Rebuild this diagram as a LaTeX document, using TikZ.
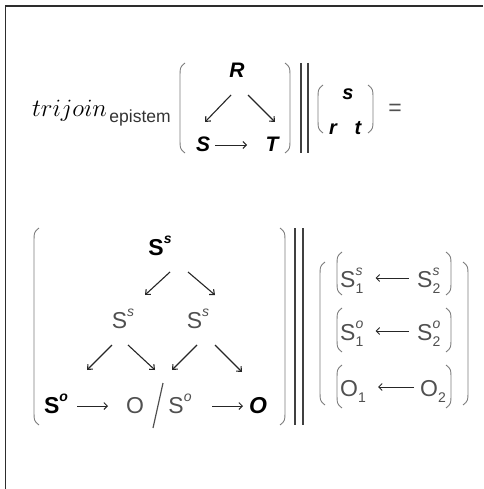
\documentclass[tikz,border=0pt]{standalone}
\usepackage{fontspec}
\setmainfont{Liberation Sans}
\usetikzlibrary{arrows.meta}
\definecolor{inkgray}{RGB}{80,80,80}
\definecolor{pargray}{RGB}{125,125,125}
\definecolor{framecol}{RGB}{45,45,45}
\newcommand{\upr}[1]{\raisebox{.5em}{\fontsize{14}{14}\selectfont #1}}
\newcommand{\supsub}[2]{\rlap{\raisebox{.5em}{\fontsize{14}{14}\selectfont #1}}\raisebox{-.3em}{\fontsize{14}{14}\selectfont #2}}
\tikzset{
  topv/.style={anchor=base,inner sep=0pt,font=\fontsize{21}{24}\selectfont\bfseries\itshape},
  vecv/.style={anchor=base,inner sep=0pt,font=\fontsize{20}{24}\selectfont\bfseries\itshape},
  boldv/.style={anchor=base,inner sep=0pt,font=\fontsize{23}{26}\selectfont\bfseries},
  greyv/.style={anchor=base,inner sep=0pt,text=inkgray,font=\fontsize{23}{26}\selectfont},
  rowv/.style={anchor=base west,inner sep=0pt,text=inkgray,font=\fontsize{23}{26}\selectfont},
  arr/.style={-{Straight Barb[length=4pt,width=7pt]},line width=1.1pt,draw=black!85},
  harr/.style={-{Straight Barb[length=3.5pt,width=7pt]},line width=.9pt,draw=black!85},
  parline/.style={draw=pargray,line width=.9pt},
  barline/.style={draw=black!75,line width=1.3pt}
}
\begin{document}
\begin{tikzpicture}[x=1pt,y=-1pt]
\newcommand{\tallpar}[4]{% x, top, bottom, side: 1 for (, -1 for )
  \draw[parline] ({#1+5*#4},#2) .. controls (#1,{#2+4}) .. (#1,{#2+16})
    -- (#1,{#3-16}) .. controls (#1,{#3-4}) .. ({#1+5*#4},#3);}
\useasboundingbox (0,0) rectangle (483,489);
% frame (only left and top edge show)
\draw[draw=framecol,line width=1.5pt] (5.5,489) -- (5.5,6) -- (483,6);

% first line
\node[anchor=base west,inner sep=0pt,font=\fontsize{23}{26}\selectfont] (fn) at (32,117) {$trijoin$};
\node[anchor=base west,inner sep=0pt,text=black!80,font=\fontsize{17.5}{20}\selectfont] (fnsub) at ([shift={(2,6)}]fn.base east) {epistem};
\node[topv] (R) at (237,78) {R};
\node[topv] (S) at (203,152) {S};
\node[topv] (T) at (272,152) {T};
\draw[arr] ([shift={(-6,17)}]R.base) -- ([shift={(2,-30)}]S.base);
\draw[arr] ([shift={(11,17)}]R.base) -- ([shift={(3,-30)}]T.base);
\draw[harr] ([shift={(12,-7)}]S.base) -- ([shift={(-25,-7)}]T.base);
\tallpar{180}{63}{153}{1}
\tallpar{290}{63}{153}{-1}
\draw[barline] (301,63) -- (301,153);
\draw[barline] (308,63) -- (308,153);
\tallpar{318}{85}{133}{1}
\tallpar{373}{85}{133}{-1}
\node[vecv] (s) at (348,100) {s};
\node[vecv] (r) at (333,135) {r};
\node[vecv] (t) at (358,135) {t};
\node[greyv] (eq) at (395,116) {=};

% second line, the tree
\node[boldv] (Ss) at (160,255) {S\upr{\textit{s}}};
\node[greyv] (A) at (123,328) {S\upr{\textit{s}}};
\node[greyv] (B) at (198,328) {S\upr{\textit{s}}};
\node[boldv] (So) at (56,413) {S\upr{\textit{o}}};
\node[greyv] (O) at (135,413) {O};
\node[greyv] (Sm) at (180,413) {S\upr{\textit{o}}};
\node[boldv,font=\fontsize{23}{26}\selectfont\bfseries\itshape] (Ob) at (258,413) {O};
\coordinate (sl1) at (153,428);
\coordinate (sl2) at (163,383);
\draw[draw=inkgray,line width=1.2pt] (sl1) -- (sl2);
\draw[arr] ([shift={(10,17)}]Ss.base) -- ([shift={(22,-33)}]A.base);
\draw[arr] ([shift={(28,17)}]Ss.base) -- ([shift={(17,-33)}]B.base);
\draw[arr] ([shift={(-11,17)}]A.base) -- ([shift={(31,-43)}]So.base);
\draw[arr] ([shift={(5,17)}]A.base) -- ([shift={(20,-43)}]O.base);
\draw[arr] ([shift={(-1,17)}]B.base) -- ([shift={(-8,-43)}]Sm.base);
\draw[arr] ([shift={(17,17)}]B.base) -- ([shift={(-16,-41)}]Ob.base);
\draw[harr] ([shift={(21,-7)}]So.base) -- ([shift={(-27,-7)}]O.base);
\draw[harr] ([shift={(32,-7)}]Sm.base) -- ([shift={(-15,-7)}]Ob.base);
\tallpar{34}{228}{425}{1}
\tallpar{285}{228}{425}{-1}
\draw[barline] (295,228) -- (295,425);
\draw[barline] (303,228) -- (303,425);

% right column
\tallpar{320}{262}{405}{1}
\tallpar{468}{262}{405}{-1}
\node[rowv] (S1s) at (340,287) {S\supsub{\textit{s}}{1}};
\node[rowv] (S2s) at (417,287) {S\supsub{\textit{s}}{2}};
\node[rowv] (S1o) at (340,340) {S\supsub{\textit{o}}{1}};
\node[rowv] (S2o) at (417,340) {S\supsub{\textit{o}}{2}};
\node[rowv] (O1) at (340,396) {O\supsub{}{1}};
\node[rowv] (O2) at (420,396) {O\supsub{}{2}};
\draw[harr] ([shift={(-8,-9)}]S2s.base west) -- ([shift={(12,-9)}]S1s.base east);
\draw[harr] ([shift={(-8,-9)}]S2o.base west) -- ([shift={(12,-9)}]S1o.base east);
\draw[harr] ([shift={(-6,-9)}]O2.base west) -- ([shift={(12,-9)}]O1.base east);
\tallpar{337}{252}{295}{1}
\tallpar{451}{252}{295}{-1}
\tallpar{337}{308}{352}{1}
\tallpar{451}{308}{352}{-1}
\tallpar{337}{365}{408}{1}
\tallpar{451}{365}{408}{-1}
\end{tikzpicture}
\end{document}
